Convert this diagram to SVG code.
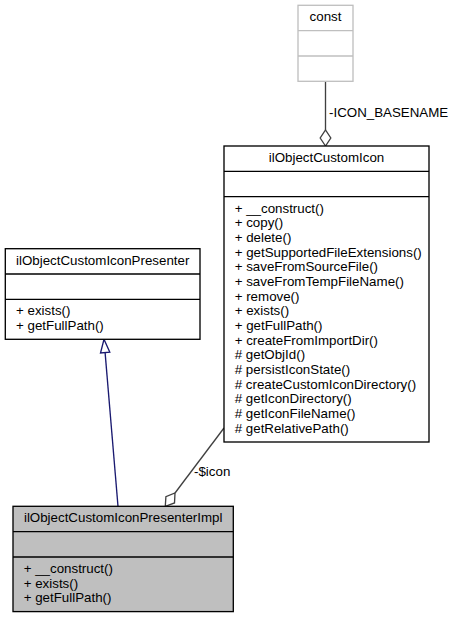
<svg xmlns="http://www.w3.org/2000/svg" width="457" height="617" viewBox="0 0 457 617">
<style>
text{font-family:"Liberation Sans",Arial,Helvetica,sans-serif;font-size:13.33px;fill:#000}
.t{text-anchor:middle}
.box{fill:#fff;stroke:#000;stroke-width:1.33}
.gray{fill:#fff;stroke:#bfbfbf;stroke-width:1.33}
.cur{fill:#bfbfbf;stroke:#000;stroke-width:1.33}
.ln{stroke:#000;stroke-width:1.33;fill:none}
.lg{stroke:#bfbfbf;stroke-width:1.33;fill:none}
.agg{stroke:#404040;stroke-width:1.33;fill:none}
.dia{fill:#fff;stroke:#404040;stroke-width:1.33}
.inh{stroke:#191970;stroke-width:1.33;fill:none}
.tri{fill:#fff;stroke:#191970;stroke-width:1.33}
</style>
<rect width="457" height="617" fill="#fff"/>
<g id="connectors">
<line class="agg" x1="325.5" y1="81.3" x2="325.5" y2="130"/>
<polygon class="dia" points="325.5,146 320.2,138 325.5,130 330.8,138"/>
<text x="329" y="117">-ICON_BASENAME</text>
<line class="inh" x1="118" y1="506.3" x2="105.1" y2="352.6"/>
<polygon class="tri" points="104,339.3 109.8,352.2 100.5,353"/>
<line class="agg" x1="224" y1="428" x2="175" y2="493"/>
<polygon class="dia" points="165.3,506.3 165.9,496.6 175,493 174.5,503"/>
<text x="194" y="476">-$icon</text>
</g>
<g id="const">
<rect class="gray" x="298" y="5.3" width="55" height="76"/>
<line class="lg" x1="298" y1="30.7" x2="353" y2="30.7"/>
<line class="lg" x1="298" y1="56" x2="353" y2="56"/>
<text class="t" x="325.5" y="21.3">const</text>
</g>
<g id="ilObjectCustomIcon">
<rect class="box" x="224" y="146" width="205" height="296"/>
<line class="ln" x1="224" y1="171.3" x2="429" y2="171.3"/>
<line class="ln" x1="224" y1="196.7" x2="429" y2="196.7"/>
<text class="t" x="326.5" y="162">ilObjectCustomIcon</text>
<text x="234.7" y="212.7">+ __construct()</text>
<text x="234.7" y="227.4">+ copy()</text>
<text x="234.7" y="242">+ delete()</text>
<text x="234.7" y="256.7">+ getSupportedFileExtensions()</text>
<text x="234.7" y="271.4">+ saveFromSourceFile()</text>
<text x="234.7" y="286">+ saveFromTempFileName()</text>
<text x="234.7" y="300.7">+ remove()</text>
<text x="234.7" y="315.4">+ exists()</text>
<text x="234.7" y="330">+ getFullPath()</text>
<text x="234.7" y="344.7">+ createFromImportDir()</text>
<text x="234.7" y="359.4"># getObjId()</text>
<text x="234.7" y="374"># persistIconState()</text>
<text x="234.7" y="388.7"># createCustomIconDirectory()</text>
<text x="234.7" y="403.4"># getIconDirectory()</text>
<text x="234.7" y="418"># getIconFileName()</text>
<text x="234.7" y="432.7"># getRelativePath()</text>
</g>
<g id="ilObjectCustomIconPresenter">
<rect class="box" x="5.3" y="248.7" width="194.7" height="90.6"/>
<line class="ln" x1="5.3" y1="274" x2="200" y2="274"/>
<line class="ln" x1="5.3" y1="299.3" x2="200" y2="299.3"/>
<text class="t" x="102.7" y="264.7">ilObjectCustomIconPresenter</text>
<text x="16" y="315.3">+ exists()</text>
<text x="16" y="330">+ getFullPath()</text>
</g>
<g id="ilObjectCustomIconPresenterImpl">
<rect class="cur" x="13" y="506.3" width="220.3" height="105.3"/>
<line class="ln" x1="13" y1="531.7" x2="233.3" y2="531.7"/>
<line class="ln" x1="13" y1="557" x2="233.3" y2="557"/>
<text class="t" x="123.2" y="522.3">ilObjectCustomIconPresenterImpl</text>
<text x="23.7" y="573">+ __construct()</text>
<text x="23.7" y="587.7">+ exists()</text>
<text x="23.7" y="602.3">+ getFullPath()</text>
</g>
</svg>
